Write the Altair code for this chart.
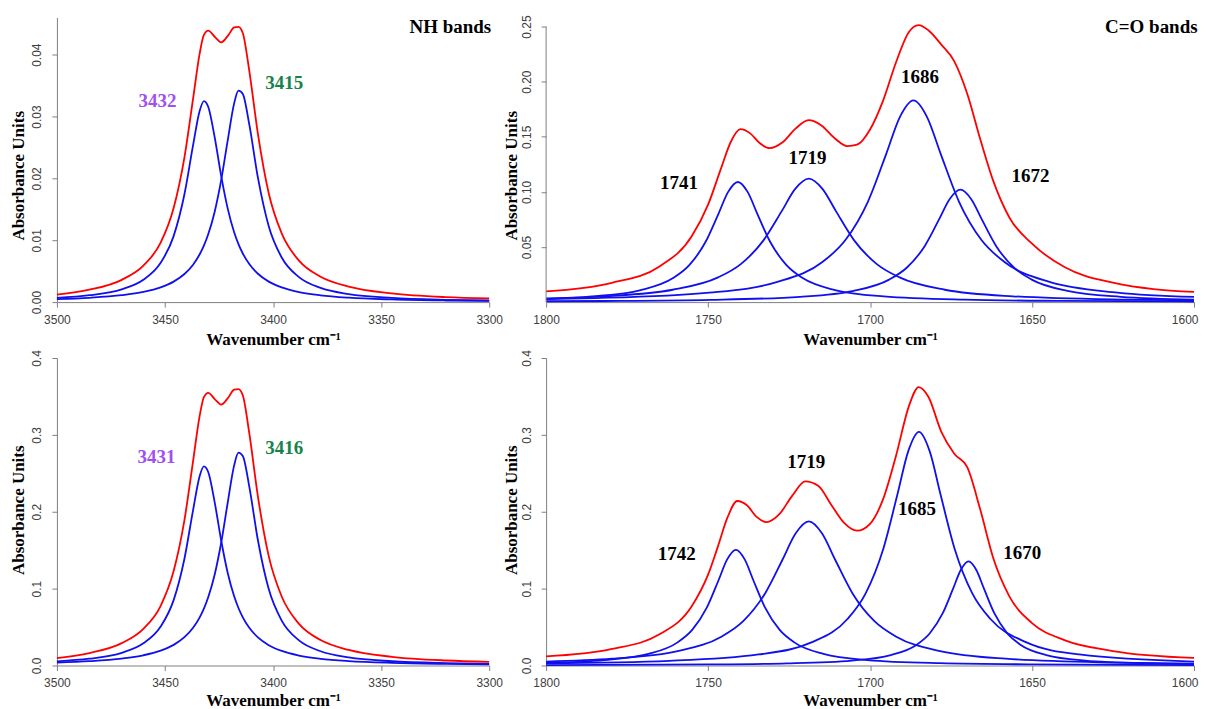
import altair as alt
import pandas as pd

# ---------------- data ----------------
# NH region, wavenumber grid (cm-1)
nh_x = [3500, 3485, 3470, 3460, 3452, 3446, 3441, 3437, 3434, 3432, 3430, 3427, 3424,
        3421, 3418, 3416, 3414, 3411, 3407, 3402, 3396, 3388, 3378, 3365, 3345, 3320, 3300]

# top-left panel
nh1_band_3432 = [0.00068, 0.00111, 0.00207, 0.00361, 0.00635, 0.01067, 0.01743, 0.02537, 0.03086,
                 0.0325, 0.03158, 0.02662, 0.02040, 0.01515, 0.01130, 0.00938, 0.00786, 0.00615,
                 0.00458, 0.00331, 0.00237, 0.00162, 0.00109, 0.00071, 0.00043, 0.00026, 0.00019]
nh1_band_3415 = [0.00047, 0.00069, 0.00111, 0.00164, 0.00238, 0.00331, 0.00454, 0.00605, 0.00769,
                 0.00913, 0.01096, 0.01462, 0.01971, 0.02610, 0.03213, 0.03418, 0.03364, 0.02873,
                 0.02011, 0.01227, 0.00721, 0.00403, 0.00229, 0.00130, 0.00068, 0.00037, 0.00026]
nh1_total = [0.0012, 0.0020, 0.0036, 0.0059, 0.0096, 0.0152, 0.0234, 0.0329, 0.0401, 0.0432,
             0.0439, 0.0429, 0.0420, 0.0430, 0.0444, 0.0445, 0.0435, 0.0374, 0.0272, 0.0176,
             0.0111, 0.0067, 0.0041, 0.0025, 0.0014, 0.0008, 0.0006]

# bottom-left panel
nh2_band_3431 = [0.0054, 0.0088, 0.0165, 0.0288, 0.0506, 0.0850, 0.1389, 0.2022, 0.2460, 0.2590,
                 0.2517, 0.2122, 0.1626, 0.1207, 0.0901, 0.0748, 0.0626, 0.0490, 0.0365, 0.0264,
                 0.0189, 0.0129, 0.0087, 0.0057, 0.0034, 0.0021, 0.0015]
nh2_band_3416 = [0.0038, 0.0056, 0.0090, 0.0133, 0.0193, 0.0268, 0.0368, 0.0490, 0.0623, 0.0740,
                 0.0888, 0.1184, 0.1597, 0.2114, 0.2603, 0.2769, 0.2725, 0.2327, 0.1629, 0.0994,
                 0.0584, 0.0326, 0.0185, 0.0105, 0.0055, 0.0030, 0.0021]
nh2_total = [0.0097, 0.0162, 0.0291, 0.0477, 0.0776, 0.1228, 0.1891, 0.2658, 0.3240, 0.3491,
             0.3547, 0.3466, 0.3394, 0.3474, 0.3588, 0.3596, 0.3515, 0.3022, 0.2198, 0.1422,
             0.0897, 0.0541, 0.0331, 0.0202, 0.0113, 0.0065, 0.0048]

# top-right panel (C=O)
co1_b1741_x = [1800, 1785.8, 1770.8, 1760.8, 1755.8, 1750.8, 1746.8, 1743.8, 1740.8, 1737.8,
               1734.8, 1730.8, 1725.8, 1720.8, 1710.8, 1695.8, 1670.8, 1640.8, 1600]
co1_b1741_y = [0.00302, 0.00513, 0.0109, 0.0218, 0.03354, 0.0545, 0.08015, 0.1, 0.109, 0.1,
               0.08015, 0.0545, 0.03354, 0.0218, 0.0109, 0.00513, 0.00218, 0.00108, 0.00055]
co1_b1719_x = [1800, 1781.9, 1760.9, 1746.9, 1739.9, 1732.9, 1727.3, 1723.1, 1718.9, 1714.7,
               1710.5, 1704.9, 1697.9, 1690.9, 1676.9, 1655.9, 1620.9, 1600]
co1_b1719_y = [0.00324, 0.00528, 0.0112, 0.0224, 0.03446, 0.056, 0.08235, 0.10275, 0.112, 0.10275,
               0.08235, 0.056, 0.03446, 0.0224, 0.0112, 0.00528, 0.00224, 0.00153]
co1_b1686_x = [1800, 1784.6, 1749.6, 1728.6, 1714.6, 1707.6, 1700.6, 1695.0, 1690.8, 1686.6,
               1682.4, 1678.2, 1672.6, 1665.6, 1658.6, 1644.6, 1623.6, 1600]
co1_b1686_y = [0.00275, 0.00366, 0.00862, 0.0183, 0.0366, 0.05631, 0.0915, 0.13456, 0.16788, 0.183,
               0.16788, 0.13456, 0.0915, 0.05631, 0.0366, 0.0183, 0.00862, 0.00466]
co1_b1672_x = [1800, 1782.1, 1749.1, 1721.6, 1705.1, 1694.1, 1688.6, 1683.1, 1678.7, 1675.4,
               1672.1, 1668.8, 1665.5, 1661.1, 1655.6, 1650.1, 1639.1, 1622.6, 1600]
co1_b1672_y = [0.00075, 0.00101, 0.00204, 0.0048, 0.0102, 0.0204, 0.03138, 0.051, 0.075, 0.09357,
               0.102, 0.09357, 0.075, 0.051, 0.03138, 0.0204, 0.0102, 0.0048, 0.00232]
co1_total_x = [1800, 1780, 1765, 1755, 1750, 1746, 1743, 1740, 1737, 1734, 1731, 1727, 1723, 1719,
               1715, 1711, 1707, 1704, 1700, 1696, 1692, 1688, 1685, 1682, 1678, 1674, 1670, 1666,
               1662, 1657, 1650, 1640, 1625, 1600]
co1_total_y = [0.0098, 0.0173, 0.0324, 0.0599, 0.0884, 0.1213, 0.1453, 0.1569, 0.1531, 0.1441,
               0.1397, 0.1450, 0.1574, 0.1651, 0.1603, 0.1489, 0.1416, 0.1428, 0.1566, 0.1826,
               0.2174, 0.2451, 0.2513, 0.2467, 0.2336, 0.2185, 0.1891, 0.1480, 0.1102, 0.0768,
               0.0530, 0.0318, 0.0176, 0.0092]

# bottom-right panel (C=O)
co2_b1742_x = [1800, 1781.9, 1768.4, 1759.4, 1754.9, 1750.4, 1746.8, 1744.1, 1741.4, 1738.7,
               1736.0, 1732.4, 1727.9, 1723.4, 1714.4, 1700.9, 1678.4, 1651.4, 1600]
co2_b1742_y = [0.00347, 0.00708, 0.01504, 0.03008, 0.04628, 0.0752, 0.11059, 0.13798, 0.1504,
               0.13798, 0.11059, 0.0752, 0.04628, 0.03008, 0.01504, 0.00708, 0.00301, 0.00149, 0.0006]
co2_b1719_x = [1800, 1779.65, 1759.4, 1745.9, 1739.15, 1732.4, 1727.0, 1722.95, 1718.9, 1714.85,
               1710.8, 1705.4, 1698.65, 1691.9, 1678.4, 1658.15, 1624.4, 1600]
co2_b1719_y = [0.00506, 0.00883, 0.01875, 0.0375, 0.05769, 0.09375, 0.13787, 0.17202, 0.1875,
               0.17202, 0.13787, 0.09375, 0.05769, 0.0375, 0.01875, 0.00883, 0.00375, 0.0024]
co2_b1685_x = [1800, 1761.9, 1734.4, 1717.9, 1706.9, 1701.4, 1695.9, 1691.5, 1688.2, 1684.9,
               1681.6, 1678.3, 1673.9, 1668.4, 1662.9, 1651.9, 1635.4, 1600]
co2_b1685_y = [0.00275, 0.00608, 0.01432, 0.0304, 0.0608, 0.09354, 0.152, 0.22353, 0.27889, 0.304,
               0.27889, 0.22353, 0.152, 0.09354, 0.0608, 0.0304, 0.01432, 0.005]
co2_b1670_x = [1800, 1749.6, 1725.6, 1705.6, 1693.6, 1685.6, 1681.6, 1677.6, 1674.4, 1672.0,
               1669.6, 1667.2, 1664.8, 1661.6, 1657.6, 1653.6, 1645.6, 1633.6, 1613.6, 1600]
co2_b1670_y = [0.00051, 0.00134, 0.00271, 0.00638, 0.01354, 0.02708, 0.04166, 0.0677, 0.09956,
               0.12422, 0.1354, 0.12422, 0.09956, 0.0677, 0.04166, 0.02708, 0.01354, 0.00638,
               0.00271, 0.00176]
co2_total_x = [1800, 1780, 1765, 1755, 1750, 1747, 1744, 1741, 1738, 1735, 1732, 1728, 1724, 1720,
               1716, 1712, 1708, 1704, 1700, 1696, 1692, 1688, 1685, 1682, 1678, 1674, 1670, 1666,
               1662, 1657, 1650, 1640, 1625, 1600]
co2_total_y = [0.0118, 0.0212, 0.0405, 0.0773, 0.1181, 0.1543, 0.1926, 0.2140, 0.2084, 0.1933,
               0.1865, 0.1968, 0.2210, 0.2394, 0.2337, 0.2092, 0.1855, 0.1754, 0.1843, 0.2161,
               0.2726, 0.3374, 0.3622, 0.3495, 0.3040, 0.2755, 0.2579, 0.2031, 0.1401, 0.0900,
               0.0552, 0.0329, 0.0188, 0.0098]

# band labels: text, wavenumber, absorbance, colour
nh1_labels = [("3432", 3453.5, 0.0316, "#A050F0"), ("3415", 3394.8, 0.0345, "#17834A")]
nh2_labels = [("3431", 3453.9, 0.2636, "#A050F0"), ("3416", 3394.8, 0.2753, "#17834A")]
co1_labels = [("1741", 1759.0, 0.103, "#000000"), ("1719", 1719.3, 0.125, "#000000"),
              ("1686", 1684.6, 0.199, "#000000"), ("1672", 1650.5, 0.109, "#000000")]
co2_labels = [("1742", 1759.7, 0.1375, "#000000"), ("1719", 1719.7, 0.2568, "#000000"),
              ("1685", 1685.5, 0.1955, "#000000"), ("1670", 1653.0, 0.139, "#000000")]
nh1_title = [("NH bands", 3299.1, 0.0435)]
co1_title = [("C=O bands", 1598.9, 0.2443)]

BLUE = "#1010EE"
RED = "#FF0000"
AXIS_GREY = "#808080"
SERIF = "Liberation Serif"
SANS = "Liberation Sans"


def lines_df(curves):
    rows = []
    for name, xs, ys in curves:
        for xv, yv in zip(xs, ys):
            rows.append({"curve": name, "wn": xv, "ab": yv})
    return pd.DataFrame(rows)


def panel(bands, total, labels, title, xdom, xticks, ydom, yticks, yfmt,
          width, height, title_x, title_y, xtitle_y, yline_top=None):
    edge = xdom[0]
    xs = alt.X("wn:Q",
               scale=alt.Scale(domain=xdom, reverse=True, nice=False, zero=False),
               axis=alt.Axis(values=xticks, format="d", title="Wavenumber cm\u207b\u00b9",
                             titleY=xtitle_y, titleBaseline="alphabetic", labelFlush=False,
                             labelAlign=alt.expr(f"datum.value == {edge} && {edge} < 2000 ? 'right' : 'center'"),
                             labelOffset=alt.expr(f"datum.value == {edge} && {edge} < 2000 ? 4 : 0")))
    ys = alt.Y("ab:Q",
               scale=alt.Scale(domain=ydom, nice=False, zero=False),
               axis=alt.Axis(values=yticks, format=yfmt, title="Absorbance Units",
                             labelAngle=-90, labelAlign="center", labelBaseline="bottom",
                             labelFlush=False,
                             titleX=title_x, titleY=title_y, titleBaseline="middle",
                             titleAlign="center", domain=(yline_top is None)))
    band_layer = alt.Chart(lines_df(bands)).mark_line(
        color=BLUE, strokeWidth=1.8, interpolate="monotone").encode(x=xs, y=ys, detail="curve:N")
    total_layer = alt.Chart(lines_df([total])).mark_line(
        color=RED, strokeWidth=1.8, interpolate="monotone").encode(x=xs, y=ys)
    lab_df = pd.DataFrame(labels, columns=["text", "wn", "ab", "col"])
    lab_layer = alt.Chart(lab_df).mark_text(
        font=SERIF, fontSize=19, fontWeight="bold", align="center", baseline="alphabetic"
    ).encode(x="wn:Q", y="ab:Q", text="text:N", color=alt.Color("col:N", scale=None))
    layers = [band_layer, total_layer, lab_layer]
    if title:
        tit_df = pd.DataFrame(title, columns=["text", "wn", "ab"])
        layers.append(alt.Chart(tit_df).mark_text(
            font=SERIF, fontSize=19, fontWeight="bold", align="right", baseline="alphabetic",
            color="#000000").encode(x="wn:Q", y="ab:Q", text="text:N"))
    if yline_top is not None:
        layers.append(alt.Chart(pd.DataFrame({"wn": [xdom[1]], "a0": [0.0], "a1": [yline_top]}))
                      .mark_rule(color=AXIS_GREY, strokeWidth=1)
                      .encode(x="wn:Q", y="a0:Q", y2="a1:Q"))
    return alt.layer(*layers).properties(width=width, height=height)


tl = panel([("b3432", nh_x, nh1_band_3432), ("b3415", nh_x, nh1_band_3415)],
           ("total", nh_x, nh1_total), nh1_labels, nh1_title,
           [3300, 3500], [3500, 3450, 3400, 3350, 3300],
           [0, 0.046], [0, 0.01, 0.02, 0.03, 0.04], ".2f",
           433, 285, -38, 158, 42)
tr = panel([("b1741", co1_b1741_x, co1_b1741_y), ("b1719", co1_b1719_x, co1_b1719_y),
            ("b1686", co1_b1686_x, co1_b1686_y), ("b1672", co1_b1672_x, co1_b1672_y)],
           ("total", co1_total_x, co1_total_y), co1_labels, co1_title,
           [1600, 1800], [1800, 1750, 1700, 1650, 1600],
           [0, 0.2582], [0.05, 0.10, 0.15, 0.20, 0.25], ".2f",
           649, 285, -35, 158, 42, yline_top=0.25)
bl = panel([("b3431", nh_x, nh2_band_3431), ("b3416", nh_x, nh2_band_3416)],
           ("total", nh_x, nh2_total), nh2_labels, None,
           [3300, 3500], [3500, 3450, 3400, 3350, 3300],
           [0, 0.4], [0, 0.1, 0.2, 0.3, 0.4], ".1f",
           433, 308, -38, 152, 40)
br = panel([("b1742", co2_b1742_x, co2_b1742_y), ("b1719", co2_b1719_x, co2_b1719_y),
            ("b1685", co2_b1685_x, co2_b1685_y), ("b1670", co2_b1670_x, co2_b1670_y)],
           ("total", co2_total_x, co2_total_y), co2_labels, None,
           [1600, 1800], [1800, 1750, 1700, 1650, 1600],
           [0, 0.4], [0, 0.1, 0.2, 0.3, 0.4], ".1f",
           649, 308, -35, 152, 40)

chart = alt.concat(tl, tr, bl, br, columns=2, spacing={"row": 56, "column": 57},
                   bounds="flush").properties(
    padding={"left": 1, "top": 5, "right": 0, "bottom": 0},
    background="white"
).configure_view(stroke="transparent").configure_axis(
    grid=False,
    domainColor=AXIS_GREY, tickColor=AXIS_GREY, tickSize=5, domainWidth=1,
    labelFont=SANS, labelFontSize=12, labelColor="#404040", labelPadding=7,
    titleFont=SERIF, titleFontSize=17, titleFontWeight="bold", titleColor="#000000"
).configure_axisY(labelPadding=8)

chart.save("out.html", embed_options={"renderer": "svg", "actions": False})
